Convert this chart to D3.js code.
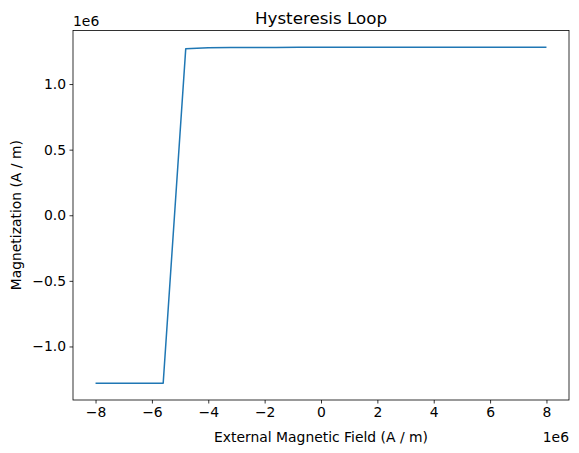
<!DOCTYPE html>
<html>
<head>
<meta charset="utf-8">
<script src="https://cdn.jsdelivr.net/npm/d3@7"></script>
<style>
  body { margin: 0; background: #fff; }
  text { font-family: "DejaVu Sans", sans-serif; fill: #000; }
</style>
</head>
<body>
<script>
// field values (A/m, in units of 1e6) and magnetization (1e6 A/m)
const fieldVals = [-8, -7.2, -6.4, -5.6, -4.8, -4.0, -3.2, -2.4, -1.6, -0.8, 0,
                   0.8, 1.6, 2.4, 3.2, 4.0, 4.8, 5.6, 6.4, 7.2, 8]
const magVals = [-1.28, -1.28, -1.28, -1.28, 1.268, 1.276, 1.278, 1.279, 1.279, 1.28, 1.28,
                 1.28, 1.28, 1.28, 1.28, 1.28, 1.28, 1.28, 1.28, 1.28, 1.28]
const xTicks = [-8, -6, -4, -2, 0, 2, 4, 6, 8]
const yTicks = [-1.0, -0.5, 0.0, 0.5, 1.0]

const width = 579
const height = 453
const margin = { left: 73, right: 10, top: 30.5, bottom: 53 }

const svg = d3.select("body")
    .append("svg")
    .attr("width", width)
    .attr("height", height)

const xPad = (d3.max(fieldVals) - d3.min(fieldVals)) * 0.05
const yPad = (d3.max(magVals) - d3.min(magVals)) * 0.05

const x = d3.scaleLinear()
    .domain([d3.min(fieldVals) - xPad, d3.max(fieldVals) + xPad])
    .range([margin.left, width - margin.right])

const y = d3.scaleLinear()
    .domain([d3.min(magVals) - yPad, d3.max(magVals) + yPad])
    .range([height - margin.bottom, margin.top])

const xAxis = svg.append("g")
    .attr("transform", `translate(0, ${height - margin.bottom})`)
    .call(d3.axisBottom(x).tickValues(xTicks).tickSize(3.5).tickPadding(3.5)
        .tickFormat(d => d3.format(".0f")(d).replace("-", "\u2212")))

const yAxis = svg.append("g")
    .attr("transform", `translate(${margin.left}, 0)`)
    .call(d3.axisLeft(y).tickValues(yTicks).tickSize(3.5).tickPadding(3.5)
        .tickFormat(d => d3.format(".1f")(d).replace("-", "\u2212")))

svg.selectAll(".tick text").style("font-size", "13.9px")
svg.selectAll(".domain").remove()
svg.selectAll(".tick line").attr("stroke", "#000").attr("stroke-width", 0.8)

const line = d3.line()
    .x((d, i) => x(fieldVals[i]))
    .y(d => y(d))

svg.append("path")
    .datum(magVals)
    .attr("fill", "none")
    .attr("stroke", "#1f77b4")
    .attr("stroke-width", 1.5)
    .attr("stroke-linejoin", "round")
    .attr("d", line)

// frame
svg.append("rect")
    .attr("x", margin.left)
    .attr("y", margin.top)
    .attr("width", width - margin.right - margin.left)
    .attr("height", height - margin.bottom - margin.top)
    .attr("fill", "none")
    .attr("stroke", "#000")
    .attr("stroke-width", 0.8)

svg.append("text")
    .attr("x", (margin.left + width - margin.right) / 2)
    .attr("y", margin.top - 7)
    .attr("text-anchor", "middle")
    .style("font-size", "16.7px")
    .text("Hysteresis Loop")

svg.append("text")
    .attr("x", (margin.left + width - margin.right) / 2)
    .attr("y", 442)
    .attr("text-anchor", "middle")
    .style("font-size", "13.9px")
    .text("External Magnetic Field (A / m)")

svg.append("text")
    .attr("transform", `translate(21, ${(margin.top + height - margin.bottom) / 2}) rotate(-90)`)
    .attr("text-anchor", "middle")
    .style("font-size", "13.9px")
    .text("Magnetization (A / m)")

svg.append("text")
    .attr("x", margin.left)
    .attr("y", margin.top - 5)
    .style("font-size", "13.9px")
    .text("1e6")

svg.append("text")
    .attr("x", width - margin.right)
    .attr("y", 442)
    .attr("text-anchor", "end")
    .style("font-size", "13.9px")
    .text("1e6")
</script>
</body>
</html>
